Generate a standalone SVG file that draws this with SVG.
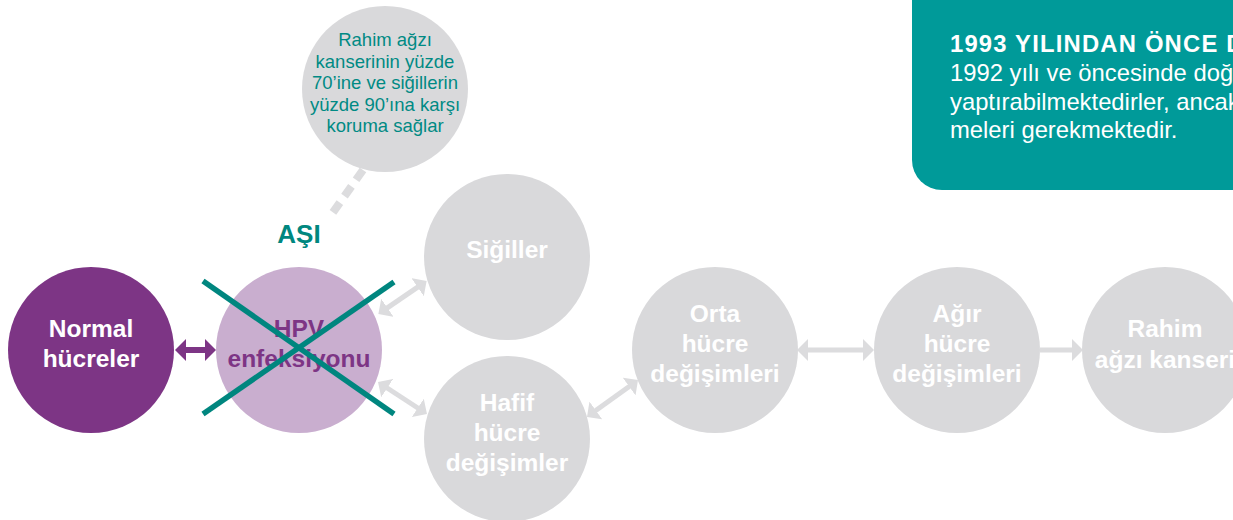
<svg xmlns="http://www.w3.org/2000/svg" width="1233" height="520" viewBox="0 0 1233 520">
  <defs>
    <marker id="headPurple" markerUnits="userSpaceOnUse" markerWidth="12" markerHeight="22" refX="1" refY="11" orient="auto-start-reverse" viewBox="0 0 12 22">
      <path d="M0,0 L11,11 L0,22 z" fill="#7d3585"/>
    </marker>
    <marker id="headGrey" markerUnits="userSpaceOnUse" markerWidth="12" markerHeight="22" refX="1" refY="11" orient="auto-start-reverse" viewBox="0 0 12 22">
      <path d="M0,0 L11,11 L0,22 z" fill="#dcdcde"/>
    </marker>
    <style>
      .lbl { font-family: "Liberation Sans", Arial, sans-serif; font-weight: bold; font-size: 24.5px; text-anchor: middle; }
      .grey { fill: #d9d9db; }
      .wt { fill: #ffffff; }
      .note { font-family: "Liberation Sans", Arial, sans-serif; font-size: 18.5px; fill: #008a84; text-anchor: middle; }
      .box { font-family: "Liberation Sans", Arial, sans-serif; fill: #ffffff; font-size: 23.8px; }
      .garrow { stroke: #dcdcde; stroke-width: 5; fill: none; marker-start: url(#headGrey); marker-end: url(#headGrey); }
      .xline { stroke: #00867f; stroke-width: 5.5; }
    </style>
  </defs>

  <g id="info-box">
    <rect x="912" y="-40" width="360" height="230" rx="30" ry="30" fill="#009a99"/>
    <text class="box" x="950" y="52" font-weight="bold" font-size="24" letter-spacing="1.2">1993 YILINDAN ÖNCE D</text>
    <text class="box" x="950" y="81">1992 yılı ve öncesinde doğ</text>
    <text class="box" x="950" y="110">yaptırabilmektedirler, ancak</text>
    <text class="box" x="950" y="138">meleri gerekmektedir.</text>
  </g>

  <g id="connectors">
    <line x1="363" y1="170" x2="329" y2="218" stroke="#dcdcde" stroke-width="8" stroke-dasharray="12 8"/>
    <line x1="185" y1="350" x2="206" y2="350" stroke="#7d3585" stroke-width="6" marker-start="url(#headPurple)" marker-end="url(#headPurple)"/>
    <line class="garrow" x1="386.6" y1="308.4" x2="418.4" y2="286.6"/>
    <line class="garrow" x1="386.4" y1="387.5" x2="418.6" y2="408.5"/>
    <line class="garrow" x1="595.1" y1="411.1" x2="629.9" y2="385.9"/>
    <line class="garrow" x1="807" y1="350" x2="864" y2="350"/>
    <line stroke="#dcdcde" stroke-width="5" x1="1040" y1="350" x2="1073" y2="350" marker-end="url(#headGrey)"/>
  </g>

  <g id="vaccine-note">
    <circle cx="385" cy="89" r="83" class="grey"/>
    <text class="note" x="385" y="46">Rahim ağzı</text>
    <text class="note" x="385" y="67.5">kanserinin yüzde</text>
    <text class="note" x="385" y="89">70’ine ve siğillerin</text>
    <text class="note" x="385" y="110.5">yüzde 90’ına karşı</text>
    <text class="note" x="385" y="132">koruma sağlar</text>
  </g>

  <g id="asi-label">
    <text x="299" y="243" font-family="Liberation Sans, Arial, sans-serif" font-weight="bold" font-size="26" fill="#00877f" text-anchor="middle">AŞI</text>
  </g>

  <g id="normal-cells">
    <circle cx="91" cy="350" r="83" fill="#7d3585"/>
    <text class="lbl wt" x="91" y="337">Normal</text>
    <text class="lbl wt" x="91" y="367">hücreler</text>
  </g>

  <g id="hpv-infection">
    <circle cx="299" cy="350" r="83" fill="#c9aecf"/>
    <text class="lbl" x="299" y="337" fill="#7d3585">HPV</text>
    <text class="lbl" x="299" y="367" fill="#7d3585">enfeksiyonu</text>
    <line class="xline" x1="203" y1="281" x2="394" y2="414"/>
    <line class="xline" x1="203" y1="414" x2="394" y2="282"/>
  </g>

  <g id="warts">
    <circle cx="507" cy="257" r="83" class="grey"/>
    <text class="lbl wt" x="507" y="258">Siğiller</text>
  </g>

  <g id="mild-changes">
    <circle cx="507" cy="439" r="83" class="grey"/>
    <text class="lbl wt" x="507" y="411">Hafif</text>
    <text class="lbl wt" x="507" y="441">hücre</text>
    <text class="lbl wt" x="507" y="471">değişimler</text>
  </g>

  <g id="moderate-changes">
    <circle cx="715" cy="350" r="83" class="grey"/>
    <text class="lbl wt" x="715" y="322">Orta</text>
    <text class="lbl wt" x="715" y="352">hücre</text>
    <text class="lbl wt" x="715" y="382">değişimleri</text>
  </g>

  <g id="severe-changes">
    <circle cx="957" cy="350" r="83" class="grey"/>
    <text class="lbl wt" x="957" y="322">Ağır</text>
    <text class="lbl wt" x="957" y="352">hücre</text>
    <text class="lbl wt" x="957" y="382">değişimleri</text>
  </g>

  <g id="cervical-cancer">
    <circle cx="1165" cy="350" r="83" class="grey"/>
    <text class="lbl wt" x="1165" y="337">Rahim</text>
    <text class="lbl wt" x="1165" y="368">ağzı kanseri</text>
  </g>
</svg>
